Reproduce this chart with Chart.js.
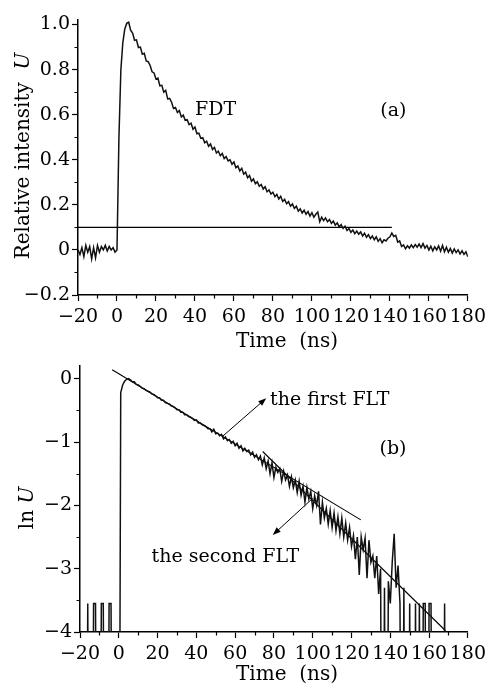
<!DOCTYPE html>
<html>
<head>
<meta charset="utf-8">
<script src="https://cdn.jsdelivr.net/npm/chart.js@4.4.0/dist/chart.umd.min.js"></script>
<style>
  html, body { margin: 0; padding: 0; background: #fff; }
  #wrap { position: relative; width: 491px; height: 686px; }
  canvas { position: absolute; left: 0; }
  #chartA { top: 0; }
  #chartB { top: 350px; }
</style>
</head>
<body>
<div id="wrap">
  <canvas id="chartA" width="491" height="350"></canvas>
  <canvas id="chartB" width="491" height="336"></canvas>
</div>
<script>
// sampling grid of the recorded trace: -20 ns .. 180 ns, 1 ns apart
const timeNs = [];
for (let t = -20; t <= 180; t++) timeNs.push(t);

// (a) relative intensity U
const intensityU = [
  // -20 .. -1
  0.0, -0.02, 0.01, -0.03, 0.02, -0.01, 0.015, -0.04, 0.01, -0.035,
  0.02, -0.01, 0.015, 0.0, 0.02, -0.005, 0.015, 0.0, 0.01, -0.01,
  // 0 .. 4
  0.0, 0.5, 0.8, 0.92, 0.98,
  // 5 .. 180
  1.005, 1.01, 0.975, 0.962, 0.93, 0.932, 0.898, 0.9, 0.868, 0.872,
  0.838, 0.835, 0.818, 0.79, 0.785, 0.758, 0.762, 0.728, 0.73, 0.7,
  0.708, 0.67, 0.672, 0.655, 0.628, 0.632, 0.61, 0.618, 0.59, 0.598,
  0.575, 0.578, 0.556, 0.562, 0.535, 0.545, 0.515, 0.518, 0.495, 0.498,
  0.475, 0.482, 0.46, 0.47, 0.445, 0.455, 0.43, 0.438, 0.418, 0.428,
  0.405, 0.414, 0.395, 0.4, 0.38, 0.39, 0.365, 0.372, 0.35, 0.362,
  0.336, 0.345, 0.32, 0.33, 0.305, 0.315, 0.294, 0.302, 0.282, 0.29,
  0.27, 0.28, 0.258, 0.266, 0.248, 0.256, 0.236, 0.246, 0.226, 0.238,
  0.215, 0.224, 0.205, 0.214, 0.194, 0.204, 0.184, 0.194, 0.172, 0.182,
  0.164, 0.176, 0.158, 0.17, 0.15, 0.165, 0.145, 0.158, 0.168, 0.125,
  0.145, 0.13, 0.142, 0.125, 0.135, 0.118, 0.128, 0.11, 0.12, 0.102,
  0.112, 0.095, 0.105, 0.086, 0.095, 0.078, 0.088, 0.072, 0.084, 0.07,
  0.08, 0.062, 0.074, 0.056, 0.068, 0.05, 0.062, 0.045, 0.058, 0.038,
  0.05, 0.032, 0.045, 0.04, 0.052, 0.058, 0.075, 0.06, 0.065, 0.035,
  0.04, 0.015, 0.022, 0.005, 0.018, 0.008, 0.022, 0.01, 0.024, 0.012,
  0.026, 0.01, 0.028, 0.008, 0.02, 0.0, 0.016, -0.004, 0.014, 0.0,
  0.018, -0.006, 0.02, -0.008, 0.012, -0.01, 0.006, -0.014, 0.004, -0.012,
  0.0, -0.018, -0.004, -0.02, -0.008, -0.03
];

// (b) ln U; -10 stands for samples with U ~ 0 (ln far below the axis)
const lnU = [
  // -20 .. -1
  -10, -10, -10, -10, -3.55, -10, -10, -3.55, -3.55, -10,
  -10, -3.55, -3.55, -10, -10, -3.55, -3.55, -10, -10, -10,
  // 0
  -10,
  // 1 .. 180
  -0.22, -0.1, -0.04, -0.01, 0.0, -0.02, -0.05, -0.05, -0.09, -0.1,
  -0.12, -0.15, -0.16, -0.18, -0.2, -0.21, -0.24, -0.25, -0.27, -0.3,
  -0.3, -0.34, -0.34, -0.38, -0.39, -0.4, -0.43, -0.44, -0.46, -0.49,
  -0.49, -0.53, -0.53, -0.57, -0.57, -0.6, -0.61, -0.63, -0.66, -0.65,
  -0.7, -0.7, -0.73, -0.74, -0.76, -0.79, -0.79, -0.84, -0.8, -0.87,
  -0.86, -0.9, -0.88, -0.95, -0.92, -0.98, -0.96, -1.02, -0.99, -1.06,
  -1.02, -1.1, -1.06, -1.14, -1.1, -1.15, -1.13, -1.2, -1.16, -1.24,
  -1.2, -1.28, -1.22, -1.36, -1.25, -1.42, -1.3, -1.5, -1.33, -1.56,
  -1.4, -1.48, -1.42, -1.62, -1.46, -1.6, -1.52, -1.7, -1.55, -1.72,
  -1.6, -1.8, -1.62, -1.84, -1.7, -1.95, -1.72, -1.9, -1.78, -2.05,
  -1.85, -2.0, -1.78, -2.3, -1.95, -2.2, -2.05, -2.3, -2.08, -2.35,
  -2.12, -2.4, -2.18, -2.45, -2.2, -2.5, -2.28, -2.55, -2.35, -2.65,
  -2.48, -2.85, -2.5, -3.1, -2.5, -2.7, -2.52, -3.15, -2.55, -2.9,
  -2.8, -3.15, -2.8, -3.4, -3.0, -10, -3.3, -10, -3.2, -3.55,
  -2.9, -2.45, -3.3, -2.95, -3.55, -10, -3.3, -10, -10, -3.55,
  -10, -10, -3.55, -10, -3.55, -10, -3.55, -3.55, -10, -3.55,
  -3.55, -10, -10, -10, -10, -10, -10, -3.55, -10, -10,
  -10, -10, -10, -10, -10, -10, -10, -10, -10, -10
];

// 10 % threshold line in (a)
const thresholdLevel = 0.1;
const thresholdEnd = 141;

// fitted straight lines in (b): [time, lnU] end points
const firstFit = [[-3.4, 0.14], [124.8, -2.23]];
const secondFit = [[74.2, -1.15], [168.5, -3.98]];

const serif = '"DejaVu Serif", "Liberation Serif", serif';
const minus = s => String(s).replace('-', '\u2212');

function richText(ctx, parts, x, y, align, size) {
  size = size || 19;
  let total = 0;
  parts.forEach(p => {
    ctx.font = (p[1] ? 'italic ' : '') + size + 'px ' + serif;
    total += ctx.measureText(p[0]).width;
  });
  let cx = align === 'center' ? x - total / 2 : x;
  ctx.textAlign = 'left';
  parts.forEach(p => {
    ctx.font = (p[1] ? 'italic ' : '') + size + 'px ' + serif;
    ctx.fillText(p[0], cx, y);
    cx += ctx.measureText(p[0]).width;
  });
}

const decor = {
  id: 'decor',
  afterDraw(chart, args, o) {
    const ctx = chart.ctx, xs = chart.scales.x, ys = chart.scales.y, a = chart.chartArea;
    ctx.save();
    ctx.strokeStyle = '#000';
    ctx.fillStyle = '#000';
    ctx.lineWidth = 1.2;
    // minor ticks
    ctx.beginPath();
    for (let v = xs.min + o.minorX; v < xs.max; v += 2 * o.minorX) {
      const px = Math.round(xs.getPixelForValue(v)) + 0.5;
      ctx.moveTo(px, a.bottom);
      ctx.lineTo(px, a.bottom + 3.5);
    }
    for (let v = ys.min + o.minorY; v < ys.max; v += 2 * o.minorY) {
      const py = Math.round(ys.getPixelForValue(v)) + 0.5;
      ctx.moveTo(a.left, py);
      ctx.lineTo(a.left - 3.5, py);
    }
    ctx.stroke();
    // arrows
    (o.arrows || []).forEach(ar => {
      const x0 = xs.getPixelForValue(ar.from[0]), y0 = ys.getPixelForValue(ar.from[1]);
      const x1 = xs.getPixelForValue(ar.to[0]), y1 = ys.getPixelForValue(ar.to[1]);
      const ang = Math.atan2(y1 - y0, x1 - x0);
      ctx.lineWidth = 1;
      ctx.beginPath();
      ctx.moveTo(x0, y0);
      ctx.lineTo(x1 - 5 * Math.cos(ang), y1 - 5 * Math.sin(ang));
      ctx.stroke();
      ctx.beginPath();
      ctx.moveTo(x1, y1);
      ctx.lineTo(x1 - 8 * Math.cos(ang) + 3 * Math.sin(ang), y1 - 8 * Math.sin(ang) - 3 * Math.cos(ang));
      ctx.lineTo(x1 - 8 * Math.cos(ang) - 3 * Math.sin(ang), y1 - 8 * Math.sin(ang) + 3 * Math.cos(ang));
      ctx.closePath();
      ctx.fill();
    });
    // labels in data coordinates
    ctx.textBaseline = 'alphabetic';
    (o.labels || []).forEach(l => {
      richText(ctx, [[l.text, false]], xs.getPixelForValue(l.x), ys.getPixelForValue(l.y), l.align, 19);
    });
    // axis titles
    richText(ctx, o.xTitle.parts, o.xTitle.x, o.xTitle.y, 'center', 20);
    ctx.translate(o.yTitle.x, o.yTitle.y);
    ctx.rotate(-Math.PI / 2);
    ctx.textBaseline = 'middle';
    richText(ctx, o.yTitle.parts, 0, 0, 'center', 20);
    ctx.restore();
  }
};

function axis(min, max, step, fmt, pad, fit) {
  return {
    type: 'linear',
    min: min,
    max: max,
    ticks: {
      stepSize: step,
      includeBounds: false,
      autoSkip: false,
      maxRotation: 0,
      padding: pad,
      color: '#000',
      font: { family: serif, size: 19 },
      callback: fmt
    },
    grid: {
      drawOnChartArea: false,
      drawTicks: true,
      tickLength: 6,
      tickWidth: 1.2,
      tickColor: '#000'
    },
    border: { display: true, color: '#000', width: 1.5 },
    afterFit: fit
  };
}

function trace(values) {
  return {
    data: timeNs.map((t, i) => ({ x: t, y: values[i] })),
    borderColor: '#111',
    borderWidth: 1.5,
    pointRadius: 0,
    tension: 0
  };
}

function straight(points) {
  return {
    data: points.map(p => ({ x: p[0], y: p[1] })),
    borderColor: '#000',
    borderWidth: 1.1,
    pointRadius: 0
  };
}

const fmtTime = v => minus(v);

new Chart(document.getElementById('chartA'), {
  type: 'line',
  data: {
    datasets: [
      trace(intensityU),
      straight([[-20, thresholdLevel], [thresholdEnd, thresholdLevel]])
    ]
  },
  options: {
    responsive: false,
    animation: false,
    layout: { padding: { left: 0, top: 20, right: 23, bottom: 0 } },
    plugins: {
      legend: { display: false },
      tooltip: { enabled: false },
      decor: {
        minorX: 10,
        minorY: 0.1,
        labels: [
          { text: 'FDT', x: 40.0, y: 0.598, align: 'left' },
          { text: '(a)', x: 141.8, y: 0.594, align: 'center' }
        ],
        xTitle: { parts: [['Time  (ns)', false]], x: 287, y: 347 },
        yTitle: { parts: [['Relative intensity  ', false], ['U', true]], x: 24, y: 156 }
      }
    },
    scales: {
      x: axis(-20, 180, 20, fmtTime, 5, s => { s.height = 55; }),
      y: axis(-0.2, 1.02, 0.2, v => Math.abs(v) < 1e-9 ? '0' : minus(v.toFixed(1)), 2, s => { s.width = 78; })
    }
  },
  plugins: [decor]
});

new Chart(document.getElementById('chartB'), {
  type: 'line',
  data: {
    datasets: [
      trace(lnU),
      straight(firstFit),
      straight(secondFit)
    ]
  },
  options: {
    responsive: false,
    animation: false,
    layout: { padding: { left: 0, top: 16, right: 22, bottom: 0 } },
    plugins: {
      legend: { display: false },
      tooltip: { enabled: false },
      decor: {
        minorX: 10,
        minorY: 0.5,
        labels: [
          { text: 'the first FLT', x: 78.0, y: -0.415, align: 'left' },
          { text: 'the second FLT', x: 16.9, y: -2.894, align: 'left' },
          { text: '(b)', x: 141.4, y: -1.19, align: 'center' }
        ],
        arrows: [
          { from: [53.7, -0.905], to: [76.0, -0.31] },
          { from: [100.0, -1.889], to: [79.4, -2.468] }
        ],
        xTitle: { parts: [['Time  (ns)', false]], x: 287, y: 330 },
        yTitle: { parts: [['ln ', false], ['U', true]], x: 28, y: 158 }
      }
    },
    scales: {
      x: axis(-20, 180, 20, fmtTime, 5, s => { s.height = 54; }),
      y: axis(-4, 0.2, 1, v => minus(v), 2, s => { s.width = 80; })
    }
  },
  plugins: [decor]
});
</script>
</body>
</html>
